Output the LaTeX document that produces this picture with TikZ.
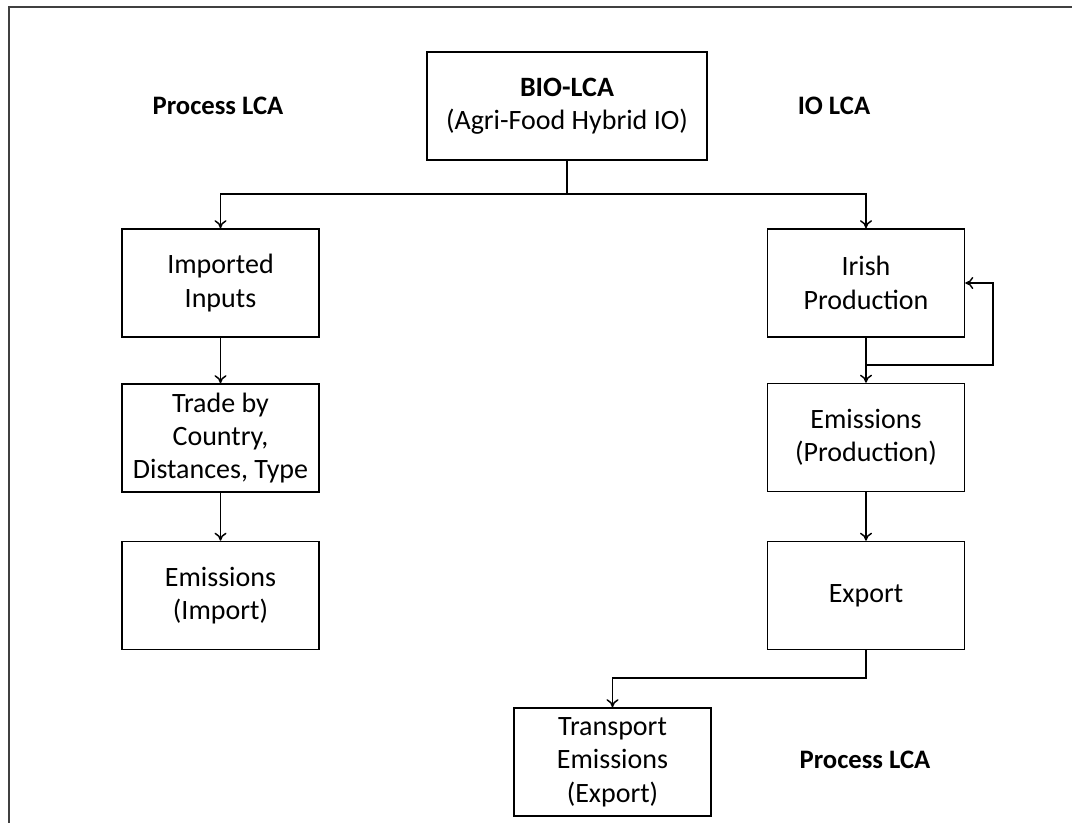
\documentclass[tikz,border=0pt]{standalone}
\usepackage{fontspec}
\setmainfont{Carlito}
\usetikzlibrary{arrows.meta}

\begin{document}
\begin{tikzpicture}[x=0.75pt,y=-0.75pt,
    font=\fontsize{21}{25}\selectfont,
    >={To[length=6pt,width=9pt]},
    stage/.style={draw,line width=1.2pt,align=center,minimum width=147.75pt,minimum height=81pt,inner sep=2pt},
    wide/.style={stage,minimum width=210pt},
    tag/.style={font=\fontsize{20}{24.5}\selectfont\bfseries},
    link/.style={line width=1.1pt}]
    \useasboundingbox (0,0) rectangle (1072,822);
    \begin{scope}
      \clip (0,0) rectangle (1072,822);
      \draw[line width=1.5pt,black!75] (9,7) rectangle (1090,840);
    \end{scope}
    % side labels
    \node[tag] (PL) at (218,106) {Process LCA};
    \node[tag] (IL) at (834,106) {IO LCA};
    \node[tag] (PLb) at (865,760) {Process LCA};
    % boxes
    \node[wide] (BIO) at (567,106) {\textbf{BIO-LCA}\\(Agri-Food Hybrid IO)};
    \node[stage] (Imp) at (220.5,283) {Imported\\Inputs};
    \node[stage] (Trade) at (220.5,438) {Trade by\\Country,\\Distances, Type};
    \node[stage] (EImp) at (220.5,595.5) {Emissions\\(Import)};
    \node[stage] (Irish) at (866,283) {Irish\\Production};
    \node[stage] (EProd) at (866,437.5) {Emissions\\(Production)};
    \node[stage] (Exp) at (866,595.5) {Export};
    \node[stage] (Trans) at (612.5,762) {Transport\\Emissions\\(Export)};
    \coordinate (split) at (567,194);
    \coordinate (loop) at (993,365);
    \coordinate (turn) at (612.5,678);
    % connectors
    \draw[link] (BIO) -- (split);
    \draw[link,->] (split) -| (Imp);
    \draw[link,->] (split) -| (Irish);
    \path[link,->] (Imp) edge (Trade);
    \path[link,->] (Trade) edge (EImp);
    \path[link,->] (Irish) edge (EProd);
    \path[link,->] (EProd) edge (Exp);
    \draw[link,->] (Irish.south |- loop) -- (loop) |- (Irish.east);
    \draw[link,->] (Exp) |- (turn) -- (Trans);
\end{tikzpicture}
\end{document}
